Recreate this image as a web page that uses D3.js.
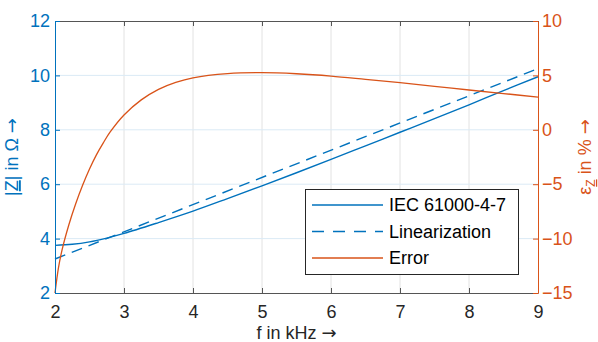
<!DOCTYPE html>
<html>
<head>
<meta charset="utf-8">
<script src="https://cdn.jsdelivr.net/npm/d3@7"></script>
<style>
  body { margin: 0; background: #fff; }
  text { font-family: "Liberation Sans", Arial, sans-serif; }
</style>
</head>
<body>
<script>
'use strict';

// values
var freq_khz = [2, 2.25, 2.5, 2.75, 3, 3.5, 4, 4.5, 5, 5.5, 6, 6.5, 7, 7.5, 8, 8.5, 9];
var z_iec = [3.75, 3.79, 3.88, 4.02, 4.19, 4.59, 5.01, 5.47, 5.94, 6.42, 6.91, 7.41, 7.91, 8.41, 8.92, 9.44, 9.95];

var lin_freq = [2, 9];
var z_lin = [3.25, 10.25];

var err_freq = [2, 2.05, 2.1, 2.2, 2.3, 2.4, 2.5, 2.6, 2.7, 2.8, 3, 3.25, 3.5, 3.75, 4,
    4.5, 5, 5.5, 6, 6.5, 7, 7.5, 8, 8.5, 9];
var err_pct = [-15, -12.7, -11.1, -8.75, -6.8, -5.1, -3.6, -2.3, -1.2, -0.2, 1.36, 2.75, 3.72, 4.36, 4.78,
    5.16, 5.25, 5.15, 4.94, 4.64, 4.33, 4.0, 3.66, 3.33, 3.01];

var x_ticks = [2, 3, 4, 5, 6, 7, 8, 9];
var yl_ticks = [2, 4, 6, 8, 10, 12];
var yr_ticks = [-15, -10, -5, 0, 5, 10];
var legend_names = ["IEC 61000-4-7", "Linearization", "Error"];

var blue = "#0072BD";
var orange = "#D95319";
var dark = "#262626";

var W = 598, H = 342;
var plot = {left: 55, right: 538, top: 21, bottom: 293};

var svg = d3.select("body").append("svg")
    .attr("width", W)
    .attr("height", H);

var x = d3.scaleLinear().domain([2, 9]).range([plot.left, plot.right]);
var yl = d3.scaleLinear().domain([2, 12]).range([plot.bottom, plot.top]);
var yr = d3.scaleLinear().domain([-15, 10]).range([plot.bottom, plot.top]);

// grid lines
var grid = svg.append("g");
grid.selectAll("line.vx")
    .data(x_ticks.slice(1, -1))
    .enter().append("line")
    .attr("x1", d => x(d)).attr("x2", d => x(d))
    .attr("y1", plot.top).attr("y2", plot.bottom)
    .attr("stroke", "#e2e2e2").attr("stroke-width", 1);
grid.selectAll("line.hy")
    .data(yl_ticks.slice(1, -1))
    .enter().append("line")
    .attr("x1", plot.left).attr("x2", plot.right)
    .attr("y1", d => yl(d)).attr("y2", d => yl(d))
    .attr("stroke", "#dbeaf5").attr("stroke-width", 1);

// curves
var lineL = d3.line().x(d => x(d[0])).y(d => yl(d[1])).curve(d3.curveCatmullRom.alpha(0.5));
var lineR = d3.line().x(d => x(d[0])).y(d => yr(d[1])).curve(d3.curveCatmullRom.alpha(0.5));

svg.append("path")
    .datum(d3.zip(freq_khz, z_iec))
    .attr("d", lineL)
    .attr("fill", "none").attr("stroke", blue).attr("stroke-width", 1.4);

svg.append("path")
    .datum(d3.zip(lin_freq, z_lin))
    .attr("d", lineL)
    .attr("fill", "none").attr("stroke", blue).attr("stroke-width", 1.4)
    .attr("stroke-dasharray", "11,7");

svg.append("path")
    .datum(d3.zip(err_freq, err_pct))
    .attr("d", lineR)
    .attr("fill", "none").attr("stroke", orange).attr("stroke-width", 1.3);

// axes
function style_axis(g, color) {
    g.select(".domain").attr("stroke", color).attr("stroke-width", 1);
    g.selectAll(".tick line").attr("stroke", color);
    g.selectAll(".tick text").attr("fill", color)
        .style("font-size", "18px")
        .style("font-family", "'Liberation Sans', Arial, sans-serif");
}

var gx = svg.append("g")
    .attr("transform", "translate(0," + plot.bottom + ")")
    .call(d3.axisBottom(x).tickValues(x_ticks).tickFormat(d3.format("d"))
        .tickSizeInner(-5).tickSizeOuter(0).tickPadding(12));
style_axis(gx, "#555");
gx.selectAll(".tick text").attr("fill", dark);

var gt = svg.append("g")
    .attr("transform", "translate(0," + plot.top + ")")
    .call(d3.axisTop(x).tickValues(x_ticks).tickSizeInner(-5).tickSizeOuter(0).tickFormat(""));
style_axis(gt, "#555");

var gl = svg.append("g")
    .attr("transform", "translate(" + plot.left + ",0)")
    .call(d3.axisLeft(yl).tickValues(yl_ticks).tickSizeInner(-5).tickSizeOuter(0).tickPadding(5));
style_axis(gl, blue);

var gr = svg.append("g")
    .attr("transform", "translate(" + plot.right + ",0)")
    .call(d3.axisRight(yr).tickValues(yr_ticks).tickSizeInner(-5).tickSizeOuter(0).tickPadding(4));
style_axis(gr, orange);

// axis labels
var xlab = svg.append("text")
    .attr("x", (plot.left + plot.right) / 2).attr("y", 339)
    .attr("text-anchor", "middle")
    .attr("fill", dark)
    .style("font-size", "18px");
xlab.append("tspan").text("f in kHz ");
xlab.append("tspan").style("font-family", "'DejaVu Sans'").text("\u2192");

var ylab = svg.append("text")
    .attr("transform", "translate(18," + ((plot.top + plot.bottom) / 2) + ") rotate(-90)")
    .attr("text-anchor", "middle")
    .attr("fill", blue)
    .style("font-size", "18px");
ylab.append("tspan").text("|");
ylab.append("tspan").style("text-decoration", "underline").text("Z");
ylab.append("tspan").text("| in \u03A9 ");
ylab.append("tspan").style("font-family", "'DejaVu Sans'").text("\u2192");

var yrlab = svg.append("text")
    .attr("transform", "translate(591," + ((plot.top + plot.bottom) / 2) + ") rotate(-90)")
    .attr("text-anchor", "middle")
    .attr("fill", orange)
    .style("font-size", "18px");
yrlab.append("tspan").text("\u03B5");
yrlab.append("tspan").attr("dy", 4).style("font-size", "12px")
    .style("text-decoration", "underline").text("Z");
yrlab.append("tspan").attr("dy", -4).text(" in % ");
yrlab.append("tspan").style("font-family", "'DejaVu Sans'").text("\u2192");

// legend
var lg = svg.append("g");
lg.append("rect")
    .attr("x", 305.5).attr("y", 189.5)
    .attr("width", 213).attr("height", 85)
    .attr("fill", "#fff").attr("stroke", dark).attr("stroke-width", 1);

var legend_styles = [
    {color: blue, dash: null},
    {color: blue, dash: "12,9"},
    {color: orange, dash: null}
];
var ly = d3.scalePoint().domain(legend_names).range([205, 258]);
legend_names.forEach(function(name, i) {
    var s = legend_styles[i];
    lg.append("line")
        .attr("x1", 312).attr("x2", 383)
        .attr("y1", ly(name)).attr("y2", ly(name))
        .attr("stroke", s.color).attr("stroke-width", 1.4)
        .attr("stroke-dasharray", s.dash);
    lg.append("text")
        .attr("x", 389).attr("y", ly(name))
        .attr("dy", "0.35em")
        .attr("fill", "#000")
        .style("font-size", "18px")
        .text(name);
});
</script>
</body>
</html>
